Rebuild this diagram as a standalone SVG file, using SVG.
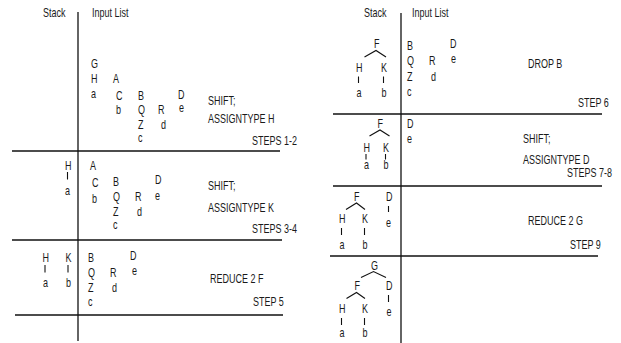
<svg xmlns="http://www.w3.org/2000/svg" width="621" height="343" viewBox="0 0 621 343">
<style>
text{font-family:"Liberation Sans Narrow","Liberation Sans",Arial,sans-serif;font-size:12px;fill:#1a1a1a;transform-box:fill-box;transform-origin:0 0;transform:scaleX(0.75)}
.rule{stroke:#111;stroke-width:1.3;fill:none}
.edge{stroke:#111;stroke-width:1.1;fill:none}
</style>
<rect width="621" height="343" fill="#fff"/>
<g id="rules">
<line class="rule" x1="78" y1="12" x2="78" y2="341"/>
<line class="rule" x1="12" y1="151" x2="280" y2="151"/>
<line class="rule" x1="12" y1="240" x2="282" y2="240"/>
<line class="rule" x1="15" y1="315" x2="283" y2="315"/>
<line class="rule" x1="401" y1="13" x2="401" y2="343"/>
<line class="rule" x1="333" y1="114" x2="602" y2="114"/>
<line class="rule" x1="333" y1="186" x2="602" y2="186"/>
<line class="rule" x1="330" y1="256" x2="598" y2="256"/>
</g>
<g id="headers">
<text x="43" y="17">Stack</text>
<text x="92" y="17">Input List</text>
<text x="364" y="17">Stack</text>
<text x="412" y="17">Input List</text>
</g>
<g id="connectors">
<line class="edge" x1="67.5" y1="172" x2="67.5" y2="179.5"/>
<line class="edge" x1="45" y1="265" x2="45" y2="272.5"/>
<line class="edge" x1="68" y1="265" x2="68" y2="272.5"/>
<polyline class="edge" points="364.5,57 376,50.5 386,57"/>
<line class="edge" x1="358.5" y1="76.5" x2="358.5" y2="83"/>
<line class="edge" x1="383.5" y1="76.5" x2="383.5" y2="83"/>
<polyline class="edge" points="369.5,136 380,130 389.5,136"/>
<line class="edge" x1="366" y1="154" x2="366" y2="159.5"/>
<line class="edge" x1="385.5" y1="154" x2="385.5" y2="159.5"/>
<polyline class="edge" points="346,209.5 356.5,203 365,209.5"/>
<line class="edge" x1="341.5" y1="228" x2="341.5" y2="235"/>
<line class="edge" x1="364.5" y1="228" x2="364.5" y2="235"/>
<line class="edge" x1="388.5" y1="206" x2="388.5" y2="212"/>
<polyline class="edge" points="361,277.5 373.5,271.5 386,277.5"/>
<polyline class="edge" points="346.5,298.5 356.5,292.5 365,298.5"/>
<line class="edge" x1="388.5" y1="295" x2="388.5" y2="302"/>
<line class="edge" x1="341.5" y1="318" x2="341.5" y2="325"/>
<line class="edge" x1="364.5" y1="318" x2="364.5" y2="325"/>
</g>
<g id="steps-1-2">
<text x="91" y="68">G</text>
<text x="91" y="83">H</text>
<text x="91" y="98">a</text>
<text x="113" y="83">A</text>
<text x="116" y="100">C</text>
<text x="116" y="114">b</text>
<text x="138" y="100">B</text>
<text x="138" y="114">Q</text>
<text x="138" y="129">Z</text>
<text x="138" y="142">c</text>
<text x="158" y="114">R</text>
<text x="161" y="129">d</text>
<text x="178" y="99">D</text>
<text x="179" y="112">e</text>
<text x="208" y="105">SHIFT;</text>
<text x="208" y="123">ASSIGNTYPE H</text>
<text x="252" y="145">STEPS 1-2</text>
</g>
<g id="steps-3-4">
<text x="65" y="170">H</text>
<text x="65" y="195">a</text>
<text x="90" y="170">A</text>
<text x="92" y="187">C</text>
<text x="92" y="203">b</text>
<text x="113" y="186">B</text>
<text x="113" y="201">Q</text>
<text x="113" y="216">Z</text>
<text x="113" y="229">c</text>
<text x="135" y="201">R</text>
<text x="137" y="216">d</text>
<text x="155" y="184">D</text>
<text x="155" y="200">e</text>
<text x="208" y="190">SHIFT;</text>
<text x="208" y="212">ASSIGNTYPE K</text>
<text x="252" y="233">STEPS 3-4</text>
</g>
<g id="step-5">
<text x="42.5" y="262">H</text>
<text x="43" y="287">a</text>
<text x="65.5" y="262">K</text>
<text x="66" y="287">b</text>
<text x="88" y="262">B</text>
<text x="88" y="277">Q</text>
<text x="88" y="292">Z</text>
<text x="88" y="306">c</text>
<text x="110" y="277">R</text>
<text x="112" y="292">d</text>
<text x="130" y="260">D</text>
<text x="132" y="275">e</text>
<text x="210" y="283">REDUCE 2 F</text>
<text x="253" y="306">STEP 5</text>
</g>
<g id="step-6">
<text x="374" y="48">F</text>
<text x="356" y="72">H</text>
<text x="381" y="72">K</text>
<text x="356.5" y="97">a</text>
<text x="381.5" y="97">b</text>
<text x="407" y="50">B</text>
<text x="407" y="65">Q</text>
<text x="407" y="81">Z</text>
<text x="407" y="96">c</text>
<text x="429" y="65">R</text>
<text x="431" y="81">d</text>
<text x="450" y="48">D</text>
<text x="451" y="63">e</text>
<text x="528" y="68">DROP B</text>
<text x="578" y="107">STEP 6</text>
</g>
<g id="steps-7-8">
<text x="377.5" y="128">F</text>
<text x="363.5" y="152">H</text>
<text x="383" y="152">K</text>
<text x="364" y="169">a</text>
<text x="383.5" y="169">b</text>
<text x="407" y="128">D</text>
<text x="407" y="143">e</text>
<text x="523" y="143">SHIFT;</text>
<text x="523" y="164">ASSIGNTYPE D</text>
<text x="567" y="177">STEPS 7-8</text>
</g>
<g id="step-9">
<text x="354" y="201">F</text>
<text x="339" y="223">H</text>
<text x="362" y="223">K</text>
<text x="339.5" y="249">a</text>
<text x="362.5" y="249">b</text>
<text x="386" y="201">D</text>
<text x="386" y="227">e</text>
<text x="528" y="225">REDUCE 2 G</text>
<text x="570" y="249">STEP 9</text>
</g>
<g id="final-tree">
<text x="371" y="270">G</text>
<text x="354.5" y="290">F</text>
<text x="386" y="290">D</text>
<text x="386.5" y="316">e</text>
<text x="339" y="313">H</text>
<text x="362" y="313">K</text>
<text x="339.5" y="337">a</text>
<text x="362.5" y="337">b</text>
</g>
</svg>
